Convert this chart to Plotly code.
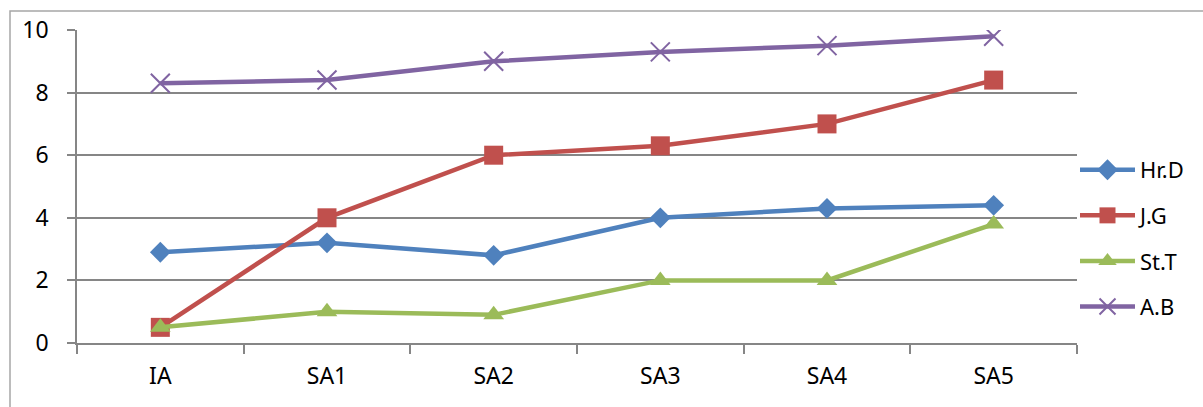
import plotly.graph_objects as go

categories = ["IA", "SA1", "SA2", "SA3", "SA4", "SA5"]
hr_d = [2.9, 3.2, 2.8, 4.0, 4.3, 4.4]
j_g = [0.5, 4.0, 6.0, 6.3, 7.0, 8.4]
st_t = [0.5, 1.0, 0.9, 2.0, 2.0, 3.8]
a_b = [8.3, 8.4, 9.0, 9.3, 9.5, 9.8]
y_ticks = [0, 2, 4, 6, 8, 10]

series = [
    ("Hr.D", hr_d, "#4F81BD", "diamond", 16, None),
    ("J.G", j_g, "#C0504D", "square", 19, None),
    ("St.T", st_t, "#9BBB59", "triangle-up", 18, None),
    ("A.B", a_b, "#8064A2", "x-thin", 19, 2),
]

fig = go.Figure()
for i, (name, vals, color, sym, size, lw) in enumerate(series):
    marker = dict(symbol=sym, size=size, color=color)
    if lw:
        marker["line"] = dict(color=color, width=lw)
    fig.add_trace(go.Scatter(
        x=categories, y=vals, name=name, mode="lines+markers",
        line=dict(color=color, width=4.5), marker=marker,
        legendgroup=f"g{i}",
    ))

fig.update_layout(
    width=1203, height=407,
    margin=dict(l=77, r=126, t=30, b=64),
    paper_bgcolor="white", plot_bgcolor="white",
    font=dict(family="Noto Sans", size=23, color="black"),
    showlegend=True,
    legend=dict(x=0.998, y=0.334, xanchor="left", yanchor="middle",
                font=dict(size=22), tracegroupgap=14, itemwidth=55,
                bgcolor="rgba(0,0,0,0)"),
    xaxis=dict(type="category", range=[-0.5, 5.5], showgrid=False,
               showline=True, linecolor="#868686", linewidth=1.5,
               ticks="outside", tickson="boundaries", ticklen=9,
               tickcolor="#868686", tickwidth=1.5, fixedrange=True,
               ticklabelstandoff=12),
    yaxis=dict(range=[0, 10], tickvals=y_ticks, showgrid=True,
               gridcolor="#868686", gridwidth=1.5, zeroline=False,
               showline=True, linecolor="#868686", linewidth=1.5,
               ticks="outside", ticklen=8, tickcolor="#868686", tickwidth=1.5,
               ticklabelstandoff=14),
    shapes=[dict(type="rect", xref="paper", yref="paper",
                 x0=-0.067, x1=1.3, y0=-0.4, y1=1.0607,
                 line=dict(color="#A6A6A6", width=1.5), layer="below")],
)

fig.write_html("out.html")
